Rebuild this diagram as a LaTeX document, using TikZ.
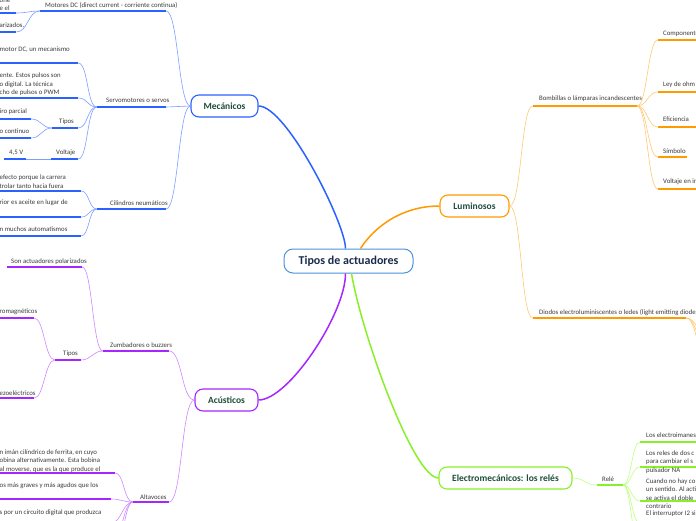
\documentclass[tikz,border=0pt]{standalone}
\usepackage{fontspec}
\setmainfont{Carlito}
\usetikzlibrary{positioning}
\definecolor{Blue}{HTML}{2B62FF}
\definecolor{BlueL}{HTML}{7F9EFF}
\definecolor{Purple}{HTML}{A626FF}
\definecolor{PurpleL}{HTML}{CC88FF}
\definecolor{Orange}{HTML}{FF9A00}
\definecolor{OrangeL}{HTML}{FFC873}
\definecolor{Green}{HTML}{88F028}
\definecolor{GreenL}{HTML}{BDFF80}
\definecolor{Sky}{HTML}{4C93D9}
\definecolor{Navy}{HTML}{1B2B4D}
\definecolor{Pine}{HTML}{1E4D3B}
\definecolor{Ink}{HTML}{3A3A3A}

\begin{document}
\begin{tikzpicture}[x=1pt,y=-1pt,
    root/.style={draw=Sky,fill=white,rounded corners=9pt,line width=1pt,
      minimum width=129pt,minimum height=24pt,text=Navy,
      font=\fontsize{12}{14}\selectfont\bfseries},
    topic/.style={draw=#1,fill=white,rounded corners=8pt,line width=1.1pt,
      minimum height=22pt,text=Pine,font=\fontsize{9.5}{11}\selectfont\bfseries},
    bar/.style={fill=#1,inner sep=0pt,minimum height=2pt},
    txt/.style={font=\fontsize{6.8}{8.5}\selectfont,text=Ink,inner sep=0pt,
      align=left,anchor=west},
    lnk/.style={draw=#1,line width=0.6pt},
    main/.style={draw=#1,line width=1.5pt}]
  \useasboundingbox (0,0) rectangle (696,520);

  % centre and main topics
  \node[root] (C0) at (348.5,261) {Tipos de actuadores};
  \node[topic=Blue,minimum width=67pt] (B0) at (224.5,106) {Mecánicos};
  \node[topic=Purple,minimum width=63pt] (A0) at (226.5,400) {Acústicos};
  \node[topic=Orange,minimum width=69pt] (L0) at (474.5,206) {Luminosos};
  \node[topic=Green,minimum width=133pt] (E0) at (505.5,478) {Electromecánicos: los relés};

  \draw[main=Blue] (B0.east) .. controls +(28,0) and +(0,-25) .. ([xshift=-3pt]C0.north);
  \draw[main=Orange] ([xshift=12pt]C0.north) .. controls +(12,-19) and +(-40,0) .. (L0.west);
  \draw[main=Purple] (A0.east) .. controls +(30,0) and +(0,40) .. ([xshift=-3pt]C0.south);
  \draw[main=Green] ([xshift=3pt]C0.south) .. controls +(10,60) and +(-25,0) .. (E0.west);

  % Mecanicos
  \node[bar=Blue,minimum width=126pt] (mot) at (103,11) {};
  \node[bar=Blue,minimum width=26pt] (dc1) at (3,13) {};
  \node[bar=Blue,minimum width=26pt] (dc2) at (3,32) {};
  \node[bar=Blue,minimum width=69pt] (serv) at (131.5,107) {};
  \node[bar=Blue,minimum width=88pt] (sv1) at (34,63) {};
  \node[bar=Blue,minimum width=88pt] (sv2) at (34,98) {};
  \node[bar=Blue,minimum width=26pt] (tip) at (65,128) {};
  \node[bar=Blue,minimum width=41pt] (tp1) at (10.5,119) {};
  \node[bar=Blue,minimum width=41pt] (tp2) at (10.5,138) {};
  \node[bar=Blue,minimum width=27pt] (vol) at (64.5,159) {};
  \node[bar=Blue,minimum width=22pt] (v45) at (15,159) {};
  \node[bar=Blue,minimum width=69pt] (cil) at (131.5,209) {};
  \node[bar=Blue,minimum width=91pt] (ci1) at (35.5,191) {};
  \node[bar=Blue,minimum width=91pt] (ci2) at (35.5,217) {};
  \node[bar=Blue,minimum width=91pt] (ci3) at (35.5,236) {};

  \node[txt] (tMot) at (45,5) {Motores DC (direct current - corriente continua)};
  \node[txt] (tDc1) at (-0.5,5) {one\\e el};
  \node[txt] (tDc2) at (-0.5,25) {arizados.};
  \node[txt] (tServ) at (106,100) {Servomotores o servos};
  \node[txt] (tSv1) at (-0.5,50) {motor DC, un mecanismo};
  \node[txt] (tSv2) at (-0.5,84.5) {ente. Estos pulsos son\\o digital. La técnica\\cho de pulsos o PWM};
  \node[txt] (tTip) at (59,122) {Tipos};
  \node[txt] (tTp1) at (-0.5,112) {iro parcial};
  \node[txt] (tTp2) at (-0.5,131) {o continuo};
  \node[txt] (tVol) at (56,153) {Voltaje};
  \node[txt] (tV45) at (9,153) {4,5 V};
  \node[txt] (tCil) at (110,203) {Cilindros neumáticos};
  \node[txt] (tCi1) at (-0.5,181.5) {efecto porque la carrera\\trolar tanto hacia fuera};
  \node[txt] (tCi2) at (-0.5,203) {rior es aceite en lugar de};
  \node[txt] (tCi3) at (-0.5,229) {n muchos automatismos};

  \draw[lnk=BlueL] (mot.east) .. controls +(12,0) and +(-12,0) .. (B0.west);
  \draw[lnk=BlueL] (serv.east) .. controls +(12,0) and +(-12,0) .. (B0.west);
  \draw[lnk=BlueL] (cil.east) .. controls +(12,0) and +(-12,0) .. (B0.west);
  \draw[lnk=BlueL] (dc1.east) .. controls +(12,0) and +(-12,0) .. (mot.west);
  \draw[lnk=BlueL] (dc2.east) .. controls +(12,0) and +(-12,0) .. (mot.west);
  \draw[lnk=BlueL] (sv1.east) .. controls +(10,0) and +(-10,0) .. (serv.west);
  \draw[lnk=BlueL] (sv2.east) .. controls +(10,0) and +(-10,0) .. (serv.west);
  \draw[lnk=BlueL] (tip.east) .. controls +(10,0) and +(-10,0) .. (serv.west);
  \draw[lnk=BlueL] (vol.east) .. controls +(10,0) and +(-10,0) .. (serv.west);
  \draw[lnk=BlueL] (tp1.east) .. controls +(10,0) and +(-10,0) .. (tip.west);
  \draw[lnk=BlueL] (tp2.east) .. controls +(10,0) and +(-10,0) .. (tip.west);
  \draw[lnk=BlueL] (v45.east) -- (vol.west);
  \draw[lnk=BlueL] (ci1.east) .. controls +(8,0) and +(-8,0) .. (cil.west);
  \draw[lnk=BlueL] (ci2.east) .. controls +(8,0) and +(-8,0) .. (cil.west);
  \draw[lnk=BlueL] (ci3.east) .. controls +(8,0) and +(-8,0) .. (cil.west);

  % Acusticos
  \node[bar=Purple,minimum width=66pt] (zum) at (136,351) {};
  \node[bar=Purple,minimum width=75pt] (zu1) at (44.5,267) {};
  \node[bar=Purple,minimum width=26pt] (zt) at (68,360) {};
  \node[bar=Purple,minimum width=44pt] (zt1) at (12,318) {};
  \node[bar=Purple,minimum width=44pt] (zt2) at (12,398) {};
  \node[bar=Purple,minimum width=36pt] (alt) at (151,502) {};
  \node[bar=Purple,minimum width=125pt] (al1) at (52.5,473) {};
  \node[bar=Purple,minimum width=121pt] (al2) at (50.5,499) {};
  \node[bar=Purple,minimum width=121pt] (al3) at (50.5,523) {};
  \coordinate (al4) at (111,546);
  \coordinate (al5) at (111,572);

  \node[txt] (tZum) at (110,345) {Zumbadores o buzzers};
  \node[txt] (tZu1) at (11,262) {Son actuadores polarizados};
  \node[txt] (tZt) at (63,354) {Tipos};
  \node[txt] (tZt1) at (-0.5,312) {romagnéticos};
  \node[txt] (tZt2) at (-0.5,393) {ezoeléctricos};
  \node[txt] (tAlt) at (140,497) {Altavoces};
  \node[txt] (tAl1) at (-0.5,460.7) {n imán cilíndrico de ferrita, en cuyo\\obina alternativamente. Esta bobina\\ al moverse, que es la que produce el};
  \node[txt] (tAl2) at (-0.5,486) {os más graves y más agudos que los};
  \node[txt] (tAl3) at (-0.5,513) {s por un circuito digital que produzca};

  \draw[lnk=PurpleL] (zum.east) .. controls +(13,0) and +(-13,0) .. (A0.west);
  \draw[lnk=PurpleL] (alt.east) .. controls +(13,0) and +(-13,0) .. (A0.west);
  \draw[lnk=PurpleL] (zu1.east) .. controls +(10,0) and +(-10,0) .. (zum.west);
  \draw[lnk=PurpleL] (zt.east) .. controls +(10,0) and +(-10,0) .. (zum.west);
  \draw[lnk=PurpleL] (zt1.east) .. controls +(10,0) and +(-10,0) .. (zt.west);
  \draw[lnk=PurpleL] (zt2.east) .. controls +(10,0) and +(-10,0) .. (zt.west);
  \draw[lnk=PurpleL] (al1.east) .. controls +(9,0) and +(-9,0) .. (alt.west);
  \draw[lnk=PurpleL] (al2.east) .. controls +(10,0) and +(-10,0) .. (alt.west);
  \draw[lnk=PurpleL] (al3.east) .. controls +(10,0) and +(-10,0) .. (alt.west);
  \draw[lnk=PurpleL] (al4) .. controls +(10,0) and +(-10,0) .. (alt.west);
  \draw[lnk=PurpleL] (al5) .. controls +(10,0) and +(-10,0) .. (alt.west);

  % Luminosos
  \node[bar=Orange,minimum width=104pt] (bom) at (585,106) {};
  \node[bar=Orange,minimum width=153pt] (dio) at (609.5,318) {};
  \node[bar=Orange,minimum width=52pt] (bo1) at (684,40) {};
  \node[bar=Orange,minimum width=52pt] (bo2) at (684,92) {};
  \node[bar=Orange,minimum width=52pt] (bo3) at (684,127) {};
  \node[bar=Orange,minimum width=29pt] (bo4) at (672.5,157) {};
  \node[bar=Orange,minimum width=52pt] (bo5) at (684,189) {};
  \coordinate (dio1) at (712,344);
  \coordinate (dio2) at (712,362);
  \coordinate (dio3) at (712,382);

  \node[txt] (tBom) at (539,99) {Bombillas o lámparas incandescentes};
  \node[txt] (tDio) at (539,313) {Diodos electroluminiscentes o ledes (light emitting diode};
  \node[txt] (tBo1) at (663,34) {Componente};
  \node[txt] (tBo2) at (663,85) {Ley de ohm};
  \node[txt] (tBo3) at (663,119) {Eficiencia};
  \node[txt] (tBo4) at (663,151) {Símbolo};
  \node[txt] (tBo5) at (663,182) {Voltaje en in};

  \draw[lnk=OrangeL] (L0.east) .. controls +(12,0) and +(-12,0) .. (bom.west);
  \draw[lnk=OrangeL] (L0.east) .. controls +(12,0) and +(-12,0) .. (dio.west);
  \draw[lnk=OrangeL] (bom.east) .. controls +(10,0) and +(-10,0) .. (bo1.west);
  \draw[lnk=OrangeL] (bom.east) .. controls +(10,0) and +(-10,0) .. (bo2.west);
  \draw[lnk=OrangeL] (bom.east) .. controls +(10,0) and +(-10,0) .. (bo3.west);
  \draw[lnk=OrangeL] (bom.east) .. controls +(10,0) and +(-10,0) .. (bo4.west);
  \draw[lnk=OrangeL] (bom.east) .. controls +(10,0) and +(-10,0) .. (bo5.west);
  \draw[lnk=OrangeL] (dio.east) .. controls +(13,0) and +(-13,0) .. (dio1);
  \draw[lnk=OrangeL] (dio.east) .. controls +(13,0) and +(-13,0) .. (dio2);
  \draw[lnk=OrangeL] (dio.east) .. controls +(13,0) and +(-13,0) .. (dio3);

  % Electromecanicos
  \node[bar=Green,minimum width=26pt] (rel) at (610,485) {};
  \node[bar=Green,minimum width=70pt] (re1) at (675,442) {};
  \node[bar=Green,minimum width=70pt] (re2) at (675,467) {};
  \node[bar=Green,minimum width=70pt] (re3) at (675,501) {};
  \node[bar=Green,minimum width=70pt] (re4) at (675,523) {};
  \coordinate (re5) at (640,548);

  \node[txt] (tRel) at (602,479) {Relé};
  \node[txt] (tRe1) at (646,435) {Los electroimanes};
  \node[txt] (tRe2) at (646,462) {Los reles de dos c\\para cambiar el s\\pulsador NA};
  \node[txt] (tRe3) at (646,493.5) {Cuando no hay co\\un sentido. Al acti\\se activa el doble\\contrario};
  \node[txt] (tRe4) at (646,514) {El interruptor I2 si};

  \draw[lnk=GreenL] (E0.east) .. controls +(12,0) and +(-12,0) .. (rel.west);
  \draw[lnk=GreenL] (rel.east) .. controls +(8,0) and +(-8,0) .. (re1.west);
  \draw[lnk=GreenL] (rel.east) .. controls +(8,0) and +(-8,0) .. (re2.west);
  \draw[lnk=GreenL] (rel.east) .. controls +(8,0) and +(-8,0) .. (re3.west);
  \draw[lnk=GreenL] (rel.east) .. controls +(8,0) and +(-8,0) .. (re4.west);
  \draw[lnk=GreenL] (rel.east) .. controls +(8,0) and +(-8,0) .. (re5);
\end{tikzpicture}
\end{document}
